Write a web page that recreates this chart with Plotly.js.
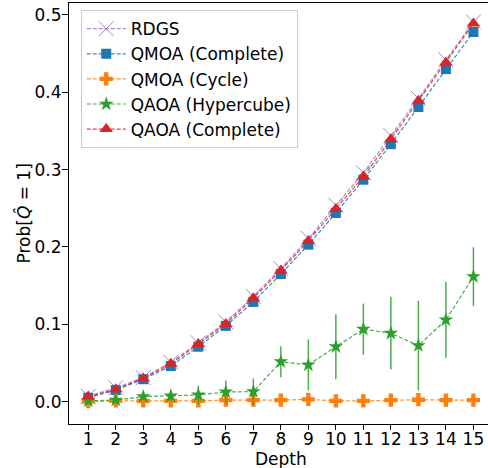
<!DOCTYPE html>
<html>
<head>
<meta charset="utf-8">
<script src="https://cdn.plot.ly/plotly-3.0.1.min.js"></script>
<style>
  html, body { margin: 0; padding: 0; background: #ffffff; }
  #chart { width: 488px; height: 468px; }
</style>
</head>
<body>
<div id="chart"></div>
<script>
// Circuit depth on the x axis
const depth = [1, 2, 3, 4, 5, 6, 7, 8, 9, 10, 11, 12, 13, 14, 15];

// Success probability per method
const rdgs = [0.007, 0.018, 0.031, 0.051, 0.076, 0.103, 0.136, 0.172, 0.211, 0.254, 0.296, 0.344, 0.392, 0.442, 0.491];
const qmoaComplete = [0.005, 0.015, 0.029, 0.046, 0.071, 0.098, 0.129, 0.165, 0.203, 0.244, 0.287, 0.333, 0.381, 0.430, 0.478];
const qmoaCycle = [0.000, 0.001, 0.001, 0.001, 0.001, 0.002, 0.002, 0.002, 0.003, 0.001, 0.001, 0.002, 0.0025, 0.002, 0.002];
const qaoaHypercube = [0.001, 0.002, 0.0065, 0.0074, 0.0087, 0.0125, 0.013, 0.0517, 0.0475, 0.0711, 0.0937, 0.0885, 0.0725, 0.1057, 0.1617];
const qaoaHypercubeErr = [0.001, 0.002, 0.003, 0.007, 0.012, 0.015, 0.017, 0.020, 0.033, 0.042, 0.033, 0.047, 0.058, 0.049, 0.038];
const qaoaComplete = [0.0065, 0.016, 0.030, 0.049, 0.0746, 0.1005, 0.1338, 0.1695, 0.2079, 0.249, 0.291, 0.3394, 0.389, 0.4386, 0.489];

const names = ['RDGS', 'QMOA (Complete)', 'QMOA (Cycle)', 'QAOA (Hypercube)', 'QAOA (Complete)'];
const xTicks = depth.map(String);
const yTickVals = [0, 0.1, 0.2, 0.3, 0.4, 0.5];
const yTicks = ['0.0', '0.1', '0.2', '0.3', '0.4', '0.5'];

const FONT = 'DejaVu Sans, sans-serif';
const FS = 17;

function series(name, y, color, lineColor, symbol, size, extra) {
  return Object.assign({
    type: 'scatter',
    mode: 'lines+markers',
    name: name,
    x: depth,
    y: y,
    line: { color: lineColor, width: 1.2, dash: '4px,2px' },
    marker: { color: color, symbol: symbol, size: size, line: { width: 0 } },
    cliponaxis: false
  }, extra || {});
}

const traces = [
  series(names[0], rdgs, 'rgba(148,103,189,0.8)', 'rgba(148,103,189,0.75)', 'x-thin-open', 15,
    { marker: { color: 'rgba(148,103,189,0.8)', symbol: 'x-thin-open', size: 15, line: { width: 1, color: 'rgba(148,103,189,0.8)' } } }),
  series(names[1], qmoaComplete, '#1f77b4', 'rgba(31,119,180,0.85)', 'square', 10),
  series(names[2], qmoaCycle, '#ff7f0e', 'rgba(255,127,14,0.85)', 'cross', 11),
  series(names[3], qaoaHypercube, '#2ca02c', 'rgba(44,160,44,0.85)', 'star', 11,
    { error_y: { type: 'data', array: qaoaHypercubeErr, visible: true, color: 'rgba(44,160,44,0.85)', thickness: 1.5, width: 0 } }),
  series(names[4], qaoaComplete, '#d62728', 'rgba(214,39,40,0.85)', 'triangle-up', 12)
];

const layout = {
  width: 488,
  height: 468,
  margin: { l: 69, r: 0, t: 3, b: 44, pad: 0 },
  paper_bgcolor: '#ffffff',
  plot_bgcolor: '#ffffff',
  font: { family: FONT, size: FS, color: '#000000' },
  showlegend: true,
  legend: {
    x: 0.028, y: 0.983, xanchor: 'left', yanchor: 'top',
    bgcolor: 'rgba(255,255,255,0.8)',
    bordercolor: '#cccccc', borderwidth: 1,
    font: { family: FONT, size: FS, color: '#000000' },
    itemwidth: 39
  },
  xaxis: {
    range: [0.3, 15.53],
    tickmode: 'array',
    tickvals: depth,
    ticktext: xTicks,
    ticks: 'outside', ticklen: 5, tickwidth: 1, tickcolor: '#000000',
    ticklabelstandoff: -5,
    showline: true, linecolor: '#000000', linewidth: 1, mirror: true,
    showgrid: false, zeroline: false,
    tickfont: { family: FONT, size: FS }
  },
  yaxis: {
    range: [-0.0289, 0.5155],
    tickmode: 'array',
    tickvals: yTickVals,
    ticktext: yTicks,
    ticks: 'outside', ticklen: 6, tickwidth: 1, tickcolor: '#000000',
    ticklabelstandoff: -3,
    showline: true, linecolor: '#000000', linewidth: 1,
    showgrid: false, zeroline: false,
    tickfont: { family: FONT, size: FS }
  },
  // Axis titles placed as annotations for exact positioning
  annotations: [
    {
      text: 'Depth', xref: 'paper', yref: 'paper',
      x: 0.505, y: -0.083, xanchor: 'center', yanchor: 'middle',
      showarrow: false, font: { family: FONT, size: FS }
    },
    {
      text: 'Prob[<i>Q\u0302</i> = 1]', xref: 'paper', yref: 'paper',
      x: -0.1098, y: 0.5, xanchor: 'center', yanchor: 'middle', textangle: -90,
      showarrow: false, font: { family: FONT, size: FS }
    }
  ]
};

Plotly.newPlot('chart', traces, layout, { displayModeBar: false, staticPlot: true });
</script>
</body>
</html>
